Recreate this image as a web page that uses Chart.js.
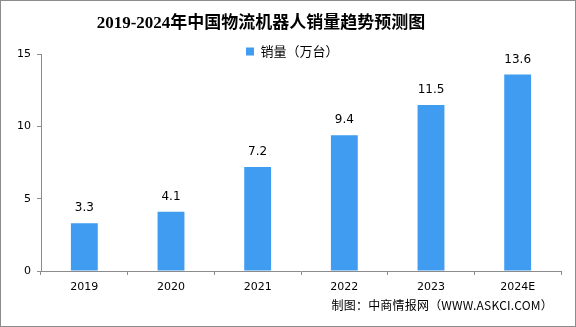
<!DOCTYPE html>
<html>
<head>
<meta charset="utf-8">
<script src="https://cdn.jsdelivr.net/npm/chart.js@4/dist/chart.umd.min.js"></script>
<style>
  html, body { margin: 0; padding: 0; background: #fff; }
  #wrap { position: relative; width: 574px; height: 325px; border: 1px solid #8c8c8c; }
  #source { position: absolute; right: 22px; top: 295px; font: 12px "Noto Sans CJK SC", "DejaVu Sans", sans-serif; color: #000; letter-spacing: 0.2px; }
</style>
</head>
<body>
<div id="wrap">
  <canvas id="chart" width="574" height="325"></canvas>
  <div id="source">制图：中商情报网（WWW.ASKCI.COM）</div>
</div>
<script>
const years = ['2019', '2020', '2021', '2022', '2023', '2024E'];
const sales = [3.3, 4.1, 7.2, 9.4, 11.5, 13.6];
const yTicks = [0, 5, 10, 15];

// value labels above each bar
const barLabels = {
  id: 'barLabels',
  afterDatasetsDraw(chart) {
    const ctx = chart.ctx;
    const meta = chart.getDatasetMeta(0);
    ctx.save();
    ctx.font = '12px "DejaVu Sans", sans-serif';
    ctx.fillStyle = '#000';
    ctx.textAlign = 'center';
    ctx.textBaseline = 'middle';
    meta.data.forEach((bar, i) => {
      ctx.fillText(sales[i].toFixed(1), bar.x, bar.y - 15);
    });
    ctx.restore();
  }
};

// the title sits a bit left of centre and the legend floats over the plot top
const placeBoxes = {
  id: 'placeBoxes',
  afterUpdate(chart) {
    const t = chart.titleBlock;
    t.left = 0;
    t.right = 520;
    const l = chart.legend;
    l.left = 245;
    l.top = 44;
  }
};

new Chart(document.getElementById('chart').getContext('2d'), {
  type: 'bar',
  data: {
    labels: years,
    datasets: [{
      label: '销量（万台）',
      data: sales,
      backgroundColor: '#3f9cf1',
      barPercentage: 0.31,
      categoryPercentage: 1.0,
    }]
  },
  options: {
    responsive: false,
    animation: false,
    layout: { padding: { left: 0, right: 14, top: 0, bottom: 0 } },
    plugins: {
      title: {
        display: true,
        text: '2019-2024年中国物流机器人销量趋势预测图',
        color: '#000',
        font: { family: '"Liberation Serif", "Noto Sans CJK SC", serif', size: 17, weight: 'bold' },
        padding: { top: 12, bottom: 21 },
      },
      legend: {
        position: 'chartArea',
        align: 'start',
        labels: {
          boxWidth: 8,
          boxHeight: 8,
          color: '#000',
          padding: 0,
          font: { family: '"Noto Sans CJK SC", sans-serif', size: 13 },
        },
      },
      tooltip: { enabled: false },
    },
    scales: {
      x: {
        grid: { display: true, drawOnChartArea: false, drawTicks: true, tickLength: 4, color: '#8c8c8c', offset: true },
        border: { color: '#8c8c8c' },
        ticks: { color: '#000', font: { family: '"DejaVu Sans", sans-serif', size: 11 }, padding: 6 },
        afterFit(scale) { scale.height = 55; },
      },
      y: {
        min: 0,
        max: 15,
        afterBuildTicks(scale) { scale.ticks = yTicks.map(v => ({ value: v })); },
        grid: { display: true, drawOnChartArea: false, drawTicks: true, tickLength: 4, color: '#8c8c8c' },
        border: { color: '#8c8c8c' },
        ticks: { color: '#000', font: { family: '"DejaVu Sans", sans-serif', size: 11 }, padding: 6 },
        afterFit(scale) { scale.width = 40; },
      }
    }
  },
  plugins: [barLabels, placeBoxes]
});
</script>
</body>
</html>
